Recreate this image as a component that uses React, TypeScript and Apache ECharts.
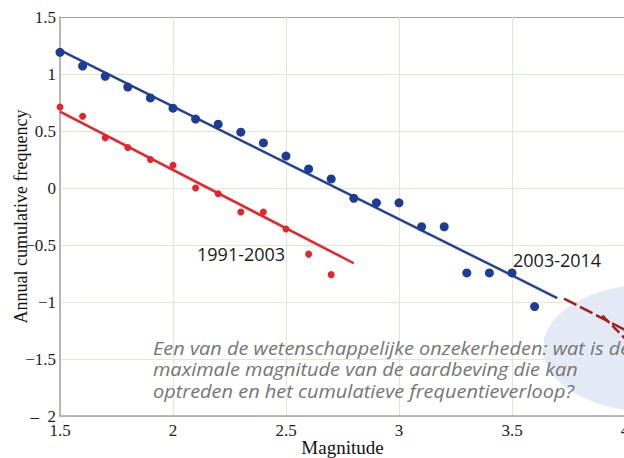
import React, { useEffect, useRef } from "react";
import * as echarts from "echarts";

const magBlue = [1.5, 1.6, 1.7, 1.8, 1.9, 2.0, 2.1, 2.2, 2.3, 2.4, 2.5, 2.6, 2.7, 2.8, 2.9, 3.0, 3.1, 3.2, 3.3, 3.4, 3.5, 3.6];
const freqBlue = [1.19, 1.07, 0.98, 0.885, 0.79, 0.70, 0.605, 0.56, 0.49, 0.395, 0.28, 0.167, 0.08, -0.09, -0.13, -0.13, -0.34, -0.34, -0.745, -0.745, -0.745, -1.04];
const magRed = [1.5, 1.6, 1.7, 1.8, 1.9, 2.0, 2.1, 2.2, 2.3, 2.4, 2.5, 2.6, 2.7];
const freqRed = [0.71, 0.63, 0.44, 0.355, 0.25, 0.2, 0.0, -0.05, -0.21, -0.21, -0.36, -0.58, -0.76];
const fitBlue = [[1.5, 1.21], [3.7, -0.965]];
const fitRed = [[1.5, 0.67], [2.8, -0.66]];
const extrapA = [[3.73, -0.97], [4.0, -1.245]];
const extrapB = [[3.9, -1.12], [4.0, -1.32]];
const xTicks = { min: 1.5, max: 4, interval: 0.5 };
const yTicks = { min: -2, max: 1.5, interval: 0.5 };
const yAxisName = "Annual cumulative frequency";
const xAxisName = "Magnitude";
const labelOld = "1991-2003";
const labelNew = "2003-2014";
const noteLines = [
  "Een van de wetenschappelijke onzekerheden: wat is de",
  "maximale magnitude van de aardbeving die kan",
  "optreden en het cumulatieve frequentieverloop?",
];

const zip = (xs: number[], ys: number[]) => xs.map((x, i) => [x, ys[i]]);

export default function App() {
  const ref = useRef<HTMLDivElement>(null);
  useEffect(() => {
    if (!ref.current) return;
    const chart = echarts.init(ref.current, null, { renderer: "svg" });
    const green = "#dcebcc";
    const gray = "#a3a3a3";
    const serif = "'Liberation Serif', 'DejaVu Serif', serif";
    const noteGraphics = noteLines.map((t, i) => ({
      type: "text",
      x: 153,
      y: 348 + i * 21.5,
      scaleX: 1.14,
      z: 10,
      style: {
        text: t,
        fontFamily: "'Open Sans', sans-serif",
        fontStyle: "italic",
        fontSize: 17.5,
        lineHeight: 19,
        fill: "#757575",
        verticalAlign: "middle",
      },
    }));
    chart.setOption({
      animation: false,
      backgroundColor: "#ffffff",
      grid: { left: 60, top: 17, width: 565, height: 399, containLabel: false, outerBoundsMode: "none" },
      xAxis: {
        type: "value",
        min: xTicks.min,
        max: xTicks.max,
        interval: xTicks.interval,
        name: xAxisName,
        nameLocation: "middle",
        nameGap: 22,
        nameMoveOverlap: false,
        nameTextStyle: { fontFamily: serif, fontSize: 19, color: "#111" },
        axisLine: { show: true, onZero: false, lineStyle: { color: gray, width: 1.5 } },
        axisTick: { show: false },
        axisLabel: { fontFamily: serif, fontSize: 17, color: "#222", margin: 6, formatter: (v: number) => String(v) },
        splitLine: { show: true, lineStyle: { color: green, width: 1 } },
      },
      yAxis: {
        type: "value",
        min: yTicks.min,
        max: yTicks.max,
        interval: yTicks.interval,
        name: yAxisName,
        nameLocation: "middle",
        nameGap: 30,
        nameRotate: 90,
        nameMoveOverlap: false,
        nameTextStyle: { fontFamily: serif, fontSize: 18, color: "#111" },
        axisLine: { show: true, onZero: false, lineStyle: { color: gray, width: 1.5 } },
        axisTick: { show: false },
        axisLabel: {
          fontFamily: serif,
          fontSize: 17,
          color: "#222",
          margin: 4,
          formatter: (v: number) => (v === -2 ? "\u2013  2" : v < 0 ? "\u2212" + Math.abs(v) : String(v)),
        },
        splitLine: {
          show: true,
          lineStyle: { color: [green, green, green, green, green, green, green, gray], width: 1 },
        },
      },
      graphic: [
        {
          type: "ellipse",
          shape: { cx: 652, cy: 348, rx: 109, ry: 64 },
          style: { fill: "#e3eaf5" },
          z: 1,
        },
        {
          type: "text",
          x: 197,
          y: 254,
          z: 10,
          style: { text: labelOld, fontFamily: "'Open Sans', sans-serif", fontSize: 18, fill: "#1a1a1a", verticalAlign: "middle" },
        },
        {
          type: "text",
          x: 513,
          y: 260,
          z: 10,
          style: { text: labelNew, fontFamily: "'Open Sans', sans-serif", fontSize: 18, fill: "#1a1a1a", verticalAlign: "middle" },
        },
        ...noteGraphics,
      ],
      series: [
        {
          type: "line",
          data: fitBlue,
          symbol: "none",
          lineStyle: { color: "#24409a", width: 2.5 },
          z: 3,
        },
        {
          type: "line",
          data: fitRed,
          symbol: "none",
          lineStyle: { color: "#e8232b", width: 2.5 },
          z: 3,
        },
        {
          type: "line",
          data: extrapA,
          symbol: "none",
          lineStyle: { color: "#a31d1d", width: 2.5, type: [14, 4] },
          z: 3,
        },
        {
          type: "line",
          data: extrapB,
          symbol: "none",
          lineStyle: { color: "#a31d1d", width: 2.5, type: [10, 4] },
          z: 3,
        },
        {
          type: "scatter",
          data: zip(magBlue, freqBlue),
          symbolSize: 9,
          itemStyle: { color: "#1f3c94", opacity: 1 },
          z: 4,
        },
        {
          type: "scatter",
          data: zip(magRed, freqRed),
          symbolSize: 7,
          itemStyle: { color: "#e8232b", opacity: 1 },
          z: 4,
        },
      ],
    });
    return () => chart.dispose();
  }, []);
  return <div ref={ref} style={{ position: "fixed", left: 0, top: 0, width: 624, height: 458 }} />;
}
